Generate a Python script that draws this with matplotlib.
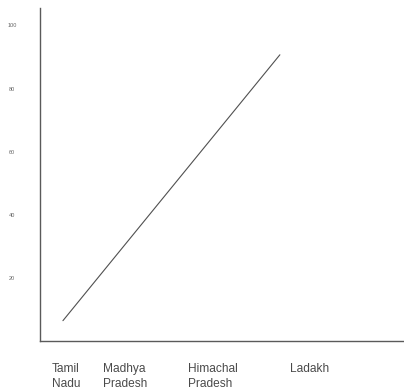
import matplotlib.pyplot as plt

# values
categories = ["Tamil\nNadu", "Madhya\nPradesh", "Himachal\nPradesh", "Ladakh"]
line_x = [6.3, 65.9]
line_y = [6.4, 90.7]
y_ticks = [100, 80, 60, 40, 20]
y_labels = ["100", "80", "60", "40", "20"]

plt.rcParams["font.family"] = ["Liberation Sans", "DejaVu Sans"]

fig = plt.figure(figsize=(4.04, 3.90), dpi=100)
ax = fig.add_axes([0.099, 0.126, 0.901, 0.854])

ax.plot(line_x, line_y, color="#505050", lw=0.8, solid_capstyle="round")

ax.set_xlim(0, 100)
ax.set_ylim(0, 105.6)

# category labels sit left-aligned under the axis
label_pos = [3.3, 17.3, 40.7, 68.7]
ax.set_xticks(label_pos)
ax.set_xticklabels(categories, ha="left", fontsize=8.6, color="#4a4a4a",
                   linespacing=1.35)
ax.tick_params(axis="x", length=0, pad=16)

ax.set_yticks(y_ticks)
ax.set_yticklabels(y_labels, fontsize=4, color="#666666", ha="center")
ax.tick_params(axis="y", length=0, pad=20)

for side in ["top", "right"]:
    ax.spines[side].set_visible(False)
for side in ["left", "bottom"]:
    ax.spines[side].set_color("#5a5a5a")
    ax.spines[side].set_linewidth(1.0)

fig.savefig("out.png", dpi=100)
